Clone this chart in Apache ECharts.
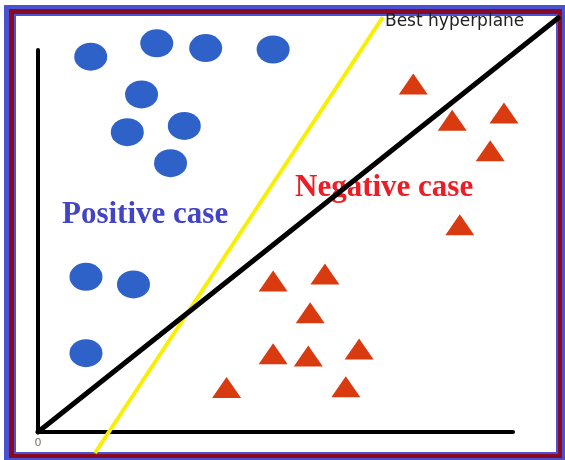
<!DOCTYPE html>
<html>
<head>
<meta charset="utf-8">
<script src="https://cdn.jsdelivr.net/npm/echarts@6/dist/echarts.min.js"></script>
<style>
	html, body { margin: 0; padding: 0; background: #fff; }
	#chart { width: 565px; height: 460px; }
</style>
</head>
<body>
<div id="chart"></div>
<script>
// positive case points (blue circles)
let positiveX = [1.11, 2.50, 3.53, 4.95, 2.18, 1.88, 3.08, 2.79, 1.01, 2.01, 1.01];
let positiveY = [7.86, 8.14, 8.04, 8.01, 7.07, 6.28, 6.41, 5.63, 3.25, 3.09, 1.65];

// negative case points (red triangles)
let negativeX = [7.90, 8.72, 9.81, 9.52, 8.88, 4.95, 6.04, 5.73, 4.95, 5.69, 6.76, 3.97, 6.48];
let negativeY = [7.29, 6.53, 6.68, 5.89, 4.34, 3.16, 3.31, 2.50, 1.64, 1.59, 1.74, 0.93, 0.95];

// separating lines, end points
let blackLineX = [0, 10.95];
let blackLineY = [0, 8.67];
let yellowLineX = [7.26, 1.20];
let yellowLineY = [8.69, -0.44];

// drawn axes (shorter than the plot area)
let axisXEnd = 10;
let axisYEnd = 8;
let xTicks = [0];

function pairs(xs, ys) {
	return xs.map(function (x, i) {
		return [x, ys[i]];
	});
}

let chart = echarts.init(document.getElementById("chart"));
chart.setOption({
	animation: false,
	grid: {
		left: 38,
		right: 4.5,
		top: 2.25,
		bottom: 28,
	},
	xAxis: {
		type: "value",
		min: 0,
		max: 11,
		interval: 11,
		axisLine: { show: false },
		axisTick: { show: false },
		splitLine: { show: false },
		axisLabel: {
			margin: 6,
			color: "#7a6e68",
			fontSize: 11,
			fontFamily: "DejaVu Sans",
			formatter: function (v) {
				return xTicks.indexOf(v) >= 0 ? String(v) : "";
			},
		},
	},
	yAxis: {
		type: "value",
		min: 0,
		max: 9,
		axisLine: { show: false },
		axisTick: { show: false },
		splitLine: { show: false },
		axisLabel: { show: false },
	},
	graphic: [
		// frame
		{ type: "rect", z: -10, shape: { x: 4, y: 5, width: 561, height: 455 }, style: { fill: "#4a52d2" } },
		{ type: "rect", z: -10, shape: { x: 9, y: 9, width: 553, height: 449 }, style: { fill: "#8a0a24" } },
		{ type: "rect", z: -10, shape: { x: 14, y: 14, width: 544, height: 440 }, style: { fill: "#4a52d2" } },
		{ type: "rect", z: -10, shape: { x: 16, y: 16, width: 540, height: 436 }, style: { fill: "#fff" } },
		// labels
		{
			type: "text",
			z: -5,
			x: 62,
			y: 215,
			style: {
				text: "Positive case",
				fill: "#4343c6",
				font: "bold 31px 'Liberation Serif'",
				verticalAlign: "middle",
			},
		},
		{
			type: "text",
			z: -5,
			x: 295,
			y: 188,
			style: {
				text: "Negative case",
				fill: "#ee1c25",
				font: "bold 31px 'Liberation Serif'",
				verticalAlign: "middle",
			},
		},
		{
			type: "text",
			z: -5,
			x: 385,
			y: 22,
			style: {
				text: "Best hyperplane",
				fill: "#222",
				font: "17px 'DejaVu Sans'",
				verticalAlign: "middle",
			},
		},
	],
	series: [
		{
			type: "line",
			data: [[0, 0], [axisXEnd, 0]],
			symbol: "none",
			z: 1,
			lineStyle: { color: "#000", width: 4, cap: "round" },
		},
		{
			type: "line",
			data: [[0, 0], [0, axisYEnd]],
			symbol: "none",
			z: 1,
			lineStyle: { color: "#000", width: 4, cap: "round" },
		},
		{
			type: "scatter",
			data: pairs(positiveX, positiveY),
			symbol: "path://M0,50 A50,50 0 1,1 100,50 A50,50 0 1,1 0,50 Z",
			symbolSize: [33, 28],
			itemStyle: { color: "#2f62c9", opacity: 1 },
		},
		{
			type: "scatter",
			data: pairs(negativeX, negativeY),
			symbol: "triangle",
			symbolSize: [29, 21],
			itemStyle: { color: "#d93a10", opacity: 1 },
		},
		{
			type: "line",
			data: pairs(yellowLineX, yellowLineY),
			symbol: "none",
			clip: false,
			z: 3,
			lineStyle: { color: "#f8f000", width: 4 },
		},
		{
			type: "line",
			data: pairs(blackLineX, blackLineY),
			symbol: "none",
			clip: false,
			z: 4,
			lineStyle: { color: "#000", width: 5, cap: "round" },
		},
	],
});
</script>
</body>
</html>
